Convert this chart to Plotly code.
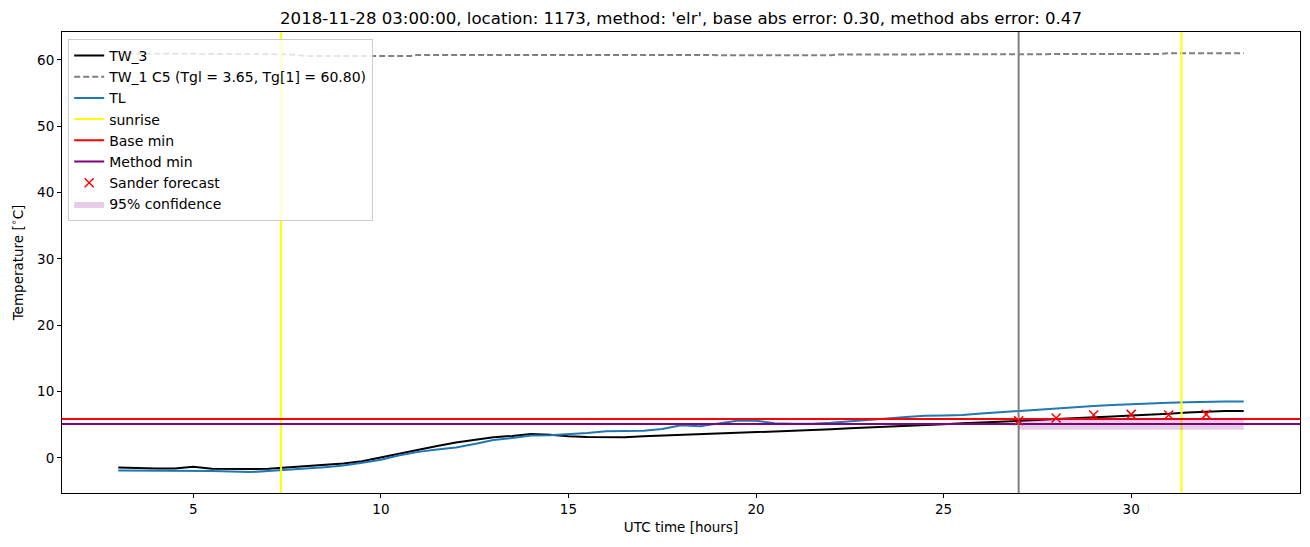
import plotly.graph_objects as go

# ---- data ----
hours = [3.0, 3.5, 4.0, 4.5, 5.0, 5.5, 6.0, 6.5, 7.0, 7.5, 8.0, 8.5, 9.0, 9.5, 10.0, 10.5,
         11.0, 11.5, 12.0, 12.5, 13.0, 13.5, 14.0, 14.5, 15.0, 15.5, 16.0, 16.5, 17.0, 17.5,
         18.0, 18.5, 19.0, 19.5, 20.0, 20.5, 21.0, 21.5, 22.0, 22.5, 23.0, 23.5, 24.0, 24.5,
         25.0, 25.5, 26.0, 26.5, 27.0, 27.5, 28.0, 28.5, 29.0, 29.5, 30.0, 30.5, 31.0, 31.5,
         32.0, 32.5, 33.0]
tw3 = [-1.45, -1.55, -1.6, -1.6, -1.35, -1.65, -1.7, -1.7, -1.65, -1.45, -1.25, -1.05, -0.85,
       -0.5, 0.1, 0.65, 1.3, 1.8, 2.3, 2.7, 3.1, 3.3, 3.6, 3.5, 3.25, 3.15, 3.15, 3.1, 3.25,
       3.35, 3.5, 3.5, 3.6, 3.7, 3.8, 3.95, 4.05, 4.15, 4.3, 4.45, 4.55, 4.7, 4.85, 4.95, 5.05,
       5.2, 5.3, 5.45, 5.55, 5.7, 5.85, 5.95, 6.1, 6.25, 6.4, 6.5, 6.65, 6.85, 7.0, 7.05, 7.05]
tl = [-1.9, -1.9, -2.0, -1.95, -1.95, -2.0, -2.05, -2.15, -2.0, -1.75, -1.6, -1.4, -1.15,
      -0.75, -0.3, 0.4, 0.9, 1.25, 1.55, 2.1, 2.7, 3.0, 3.35, 3.4, 3.55, 3.75, 4.0, 4.05, 4.1,
      4.35, 4.9, 4.75, 5.2, 5.6, 5.6, 5.2, 5.15, 5.15, 5.3, 5.55, 5.75, 5.95, 6.15, 6.35, 6.4,
      6.45, 6.7, 6.9, 7.1, 7.3, 7.5, 7.65, 7.8, 7.95, 8.1, 8.25, 8.3, 8.4, 8.5, 8.5, 8.5]
tw1_hours = [3.0, 7.0, 7.5, 8.0, 10.8, 11.0, 12.5, 12.7, 13.5, 14.0, 22.0, 22.2, 27.0, 27.1,
             30.8, 31.0, 33.0]
tw1 = [60.95, 60.95, 60.85, 60.6, 60.6, 60.75, 60.75, 60.65, 60.65, 60.7, 60.7, 60.8, 60.8,
       60.9, 60.9, 61.0, 61.0]
sunrise_hours = [7.34, 31.34]
forecast_start = 27.0
base_min = 5.87
method_min = 5.1
fc_hours = [27, 28, 29, 30, 31, 32]
fc_values = [5.6, 6.0, 6.45, 6.55, 6.45, 6.55]
conf_hours = [27.0, 33.0]
conf_low = 4.25
conf_high = 5.95

x_range = [1.5, 34.5]
y_range = [-5.3, 64.2]

title = ("2018-11-28 03:00:00, location: 1173, method: 'elr', "
         "base abs error: 0.30, method abs error: 0.47")

fig = go.Figure()
fig.add_trace(go.Scatter(x=hours, y=tw3, mode="lines", name="TW_3",
                         line=dict(color="black", width=2)))
fig.add_trace(go.Scatter(x=tw1_hours, y=tw1, mode="lines",
                         name="TW_1 C5 (Tgl = 3.65, Tg[1] = 60.80)",
                         line=dict(color="gray", width=2, dash="6px,3px")))
fig.add_trace(go.Scatter(x=hours, y=tl, mode="lines", name="TL",
                         line=dict(color="#1f77b4", width=2)))
sx, sy = [], []
for s in sunrise_hours:
    sx += [s, s, None]
    sy += [y_range[0], y_range[1], None]
fig.add_trace(go.Scatter(x=sx, y=sy, mode="lines", name="sunrise",
                         line=dict(color="yellow", width=2)))
fig.add_trace(go.Scatter(x=x_range, y=[base_min, base_min], mode="lines", name="Base min",
                         line=dict(color="red", width=2)))
fig.add_trace(go.Scatter(x=x_range, y=[method_min, method_min], mode="lines",
                         name="Method min", line=dict(color="purple", width=2)))
fig.add_trace(go.Scatter(x=[forecast_start, forecast_start], y=y_range, mode="lines",
                         showlegend=False, line=dict(color="gray", width=2)))
fig.add_trace(go.Scatter(x=fc_hours, y=fc_values, mode="markers", name="Sander forecast",
                         marker=dict(symbol="x-thin", size=9, color="red",
                                     line=dict(color="red", width=1.5))))
fig.add_trace(go.Scatter(x=[conf_hours[0], conf_hours[1], conf_hours[1], conf_hours[0], conf_hours[0]],
                         y=[conf_low, conf_low, conf_high, conf_high, conf_low],
                         mode="lines", fill="toself", fillcolor="rgba(128,0,128,0.2)",
                         line=dict(width=0), name="95% confidence"))

axis_common = dict(showline=True, mirror=True, linecolor="black", linewidth=1,
                   ticks="outside", ticklen=4, tickcolor="black", showgrid=False,
                   zeroline=False, tickfont=dict(size=13.5, color="black"))
fig.update_xaxes(range=x_range, tickvals=[5, 10, 15, 20, 25, 30],
                 title=dict(text="UTC time [hours]", font=dict(size=13.5, color="black"),
                            standoff=6), **axis_common)
fig.update_yaxes(range=y_range, tickvals=[0, 10, 20, 30, 40, 50, 60],
                 title=dict(text="Temperature [<sup>∘</sup>C]", font=dict(size=13.5, color="black"),
                            standoff=10), **axis_common)

fig.update_layout(
    width=1310, height=547,
    margin=dict(l=62, r=10, t=32, b=54),
    plot_bgcolor="white", paper_bgcolor="white",
    font=dict(family="DejaVu Sans", size=13.5, color="black"),
    title=dict(text=title, x=(62 + 1300) / 2 / 1310, xanchor="center", y=1 - 18 / 547,
               yanchor="middle", font=dict(size=16.6, color="black")),
    legend=dict(x=0.005, y=0.985, xanchor="left", yanchor="top",
                bgcolor="rgba(255,255,255,0.8)", bordercolor="#cccccc", borderwidth=1,
                font=dict(size=14, color="black"), itemwidth=30, tracegroupgap=0),
    showlegend=True,
)

fig.write_html("out.html")
